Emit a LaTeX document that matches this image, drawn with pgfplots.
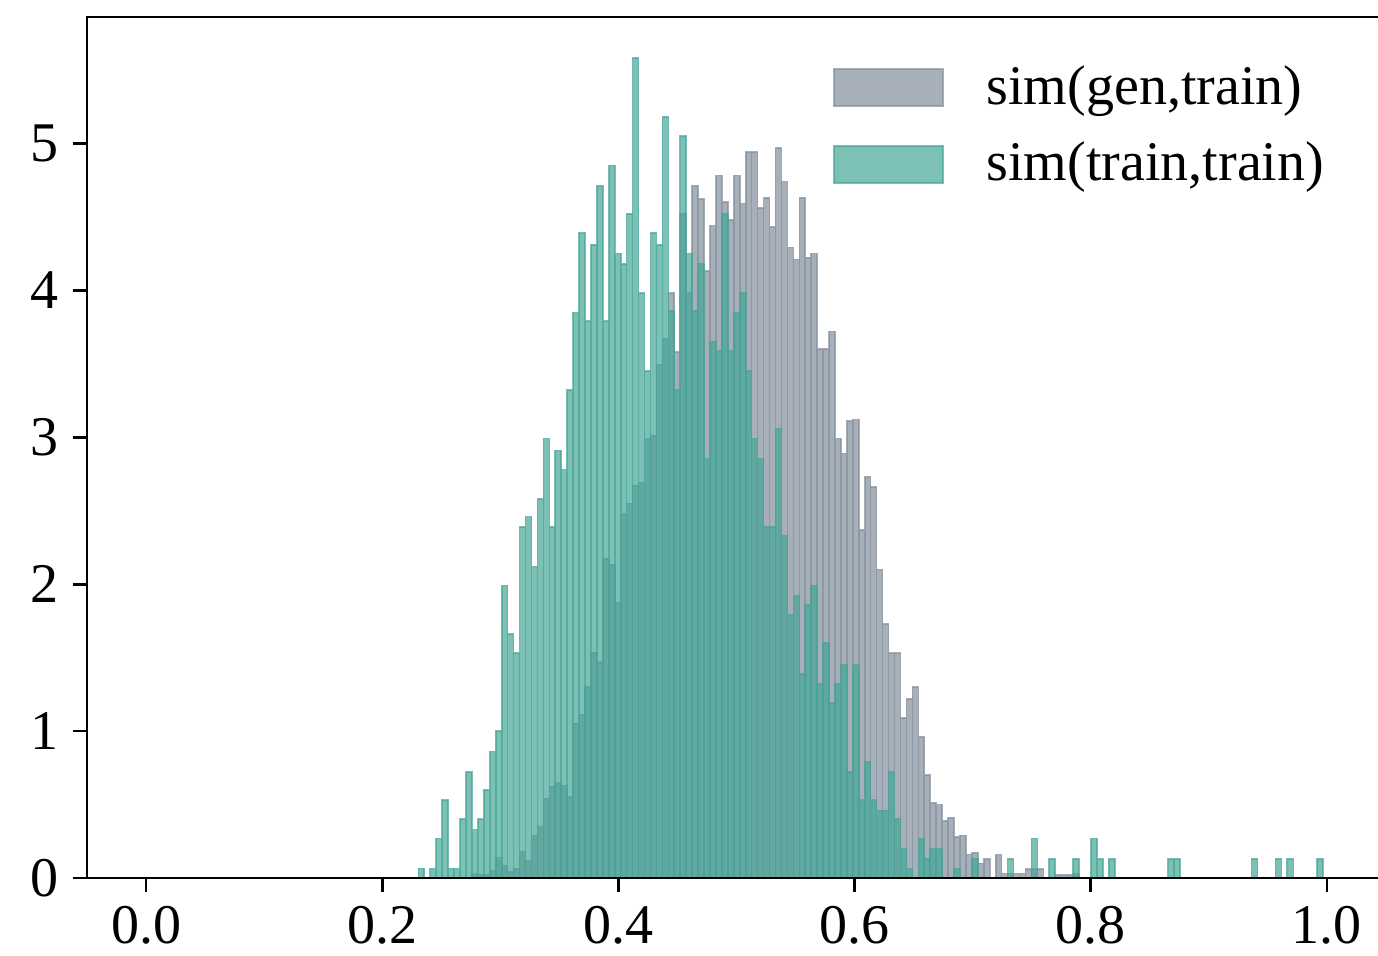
\documentclass[border=0pt]{standalone}
\usepackage{fontspec}
\setmainfont{Liberation Serif}
\usepackage{pgfplots}
\usepackage{pgfplotstable}
\pgfplotsset{compat=1.18}
\definecolor{greyc}{RGB}{129,142,154}
\definecolor{tealc}{RGB}{68,165,151}

\pgfplotstableread{
x y
0.2760 0.03
0.2810 0.02
0.2860 0.02
0.2911 0.05
0.2961 0.14
0.3012 0.08
0.3062 0.04
0.3112 0.06
0.3163 0.18
0.3213 0.12
0.3264 0.29
0.3314 0.35
0.3364 0.54
0.3415 0.62
0.3465 0.65
0.3516 0.63
0.3566 0.55
0.3616 1.05
0.3667 1.11
0.3717 1.30
0.3768 1.53
0.3818 1.47
0.3868 2.17
0.3919 2.13
0.3969 1.87
0.4020 2.48
0.4070 2.55
0.4120 2.67
0.4171 2.69
0.4221 2.99
0.4272 3.01
0.4322 3.49
0.4372 3.67
0.4423 3.98
0.4473 3.58
0.4524 4.52
0.4574 3.98
0.4624 4.71
0.4675 4.62
0.4725 4.13
0.4776 4.44
0.4826 4.78
0.4876 4.60
0.4927 4.48
0.4977 4.78
0.5028 4.59
0.5078 4.94
0.5128 4.94
0.5179 4.56
0.5229 4.63
0.5280 4.43
0.5330 4.97
0.5380 4.74
0.5431 4.29
0.5481 4.21
0.5532 4.63
0.5582 4.22
0.5632 4.25
0.5683 3.60
0.5733 3.60
0.5784 3.72
0.5834 2.99
0.5884 2.89
0.5935 3.11
0.5985 3.12
0.6036 2.37
0.6086 2.73
0.6136 2.66
0.6187 2.10
0.6237 1.73
0.6288 1.53
0.6338 1.53
0.6388 1.09
0.6439 1.22
0.6489 1.30
0.6540 0.96
0.6590 0.70
0.6640 0.51
0.6691 0.50
0.6741 0.39
0.6792 0.41
0.6842 0.28
0.6892 0.29
0.6943 0.16
0.6993 0.17
0.7044 0.10
0.7094 0.13
0.7144 0
0.7195 0.16
0.7245 0.03
0.7296 0.03
0.7346 0.03
0.7396 0.03
0.7447 0.06
0.7497 0.06
0.7548 0.06
0.7598 0
0.7699 0.02
0.7749 0.02
0.7800 0.02
0.7850 0.03
0.7900 0
}\gentrain

\pgfplotstableread{
x y
0.2306 0.066
0.2356 0
0.2407 0.066
0.2457 0.27
0.2508 0.53
0.2558 0.066
0.2608 0.066
0.2659 0.40
0.2709 0.72
0.2760 0.33
0.2810 0.40
0.2860 0.60
0.2911 0.86
0.2961 1.00
0.3012 1.99
0.3062 1.66
0.3112 1.53
0.3163 2.39
0.3213 2.46
0.3264 2.12
0.3314 2.58
0.3364 2.99
0.3415 2.39
0.3465 2.91
0.3516 2.78
0.3566 3.32
0.3616 3.85
0.3667 4.39
0.3717 3.79
0.3768 4.31
0.3818 4.71
0.3868 3.79
0.3919 4.85
0.3969 4.25
0.4020 4.18
0.4070 4.52
0.4120 5.58
0.4171 3.98
0.4221 3.45
0.4272 4.39
0.4322 4.31
0.4372 5.18
0.4423 3.86
0.4473 3.32
0.4524 5.05
0.4574 4.25
0.4624 3.86
0.4675 4.18
0.4725 2.85
0.4776 3.65
0.4826 3.59
0.4876 4.52
0.4927 3.59
0.4977 3.85
0.5028 3.98
0.5078 3.45
0.5128 2.99
0.5179 2.85
0.5229 2.39
0.5280 2.39
0.5330 3.06
0.5380 2.33
0.5431 1.79
0.5481 1.92
0.5532 1.39
0.5582 1.86
0.5632 1.99
0.5683 1.32
0.5733 1.60
0.5784 1.19
0.5834 1.32
0.5884 1.45
0.5935 0.72
0.5985 1.45
0.6036 0.53
0.6086 0.79
0.6136 0.53
0.6187 0.46
0.6237 0.46
0.6288 0.72
0.6338 0.40
0.6388 0.20
0.6439 0.066
0.6489 0
0.6540 0.27
0.6590 0.13
0.6640 0.20
0.6691 0.20
0.6741 0
0.6842 0.066
0.6892 0
0.6993 0.13
0.7044 0
0.7296 0.13
0.7346 0
0.7497 0.27
0.7548 0
0.7648 0.13
0.7699 0
0.7850 0.13
0.7900 0
0.8001 0.27
0.8052 0.13
0.8102 0
0.8152 0.13
0.8203 0
0.8656 0.13
0.8707 0.13
0.8757 0
0.9362 0.13
0.9412 0
0.9564 0.13
0.9614 0
0.9664 0.13
0.9715 0
0.9916 0.13
0.9966 0
}\traintrain

\begin{document}
\begin{tikzpicture}
\begin{axis}[
  scale only axis,
  width=324.75pt, height=215.25pt,
  xmin=-0.05, xmax=1.05,
  ymin=0, ymax=5.86,
  axis on top,
  axis line style={line width=0.7pt, black},
  tick align=outside,
  tick pos=left,
  major tick length=3.5pt,
  every tick/.style={black, line width=0.7pt},
  xtick={0,0.2,0.4,0.6,0.8,1.0},
  xticklabels={0.0,0.2,0.4,0.6,0.8,1.0},
  ytick={0,1,2,3,4,5},
  /pgf/number format/assume math mode=true,
  tick label style={font=\fontsize{14}{16}\selectfont},
  legend style={at={(0.5743,0.944)}, anchor=north west, draw=none, fill=none,
    inner sep=0pt, outer sep=0pt, row sep=8pt,
    nodes={inner sep=0pt},
    font=\fontsize{14}{16}\selectfont},
  legend cell align=left,
  /tikz/every odd column/.append style={column sep=10.75pt},
  legend image code/.code={\fill[#1] (0pt,-4.6pt) rectangle (27.25pt,4.6pt);},
]
\addplot[ybar interval, fill=greyc, fill opacity=0.7, draw=greyc, draw opacity=0.7, line width=0.4pt] table[x=x,y=y] {\gentrain};
\addlegendentry{sim(gen,train)}
\addplot[ybar interval, fill=tealc, fill opacity=0.7, draw=tealc, draw opacity=0.7, line width=0.4pt] table[x=x,y=y] {\traintrain};
\addlegendentry{sim(train,train)}
\coordinate (sw) at (rel axis cs:0,0);
\end{axis}
\pgfresetboundingbox
\useasboundingbox ([shift={(-21.75pt,-19.25pt)}]sw) rectangle ([shift={(322.75pt,219.5pt)}]sw);
\end{tikzpicture}
\end{document}
